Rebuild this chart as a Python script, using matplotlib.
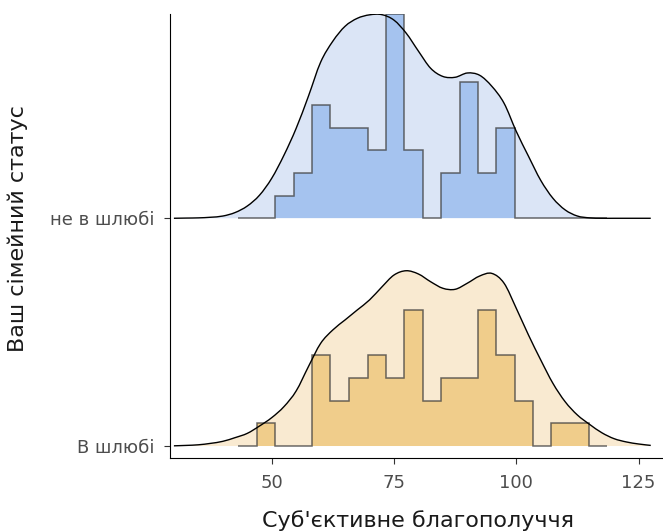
"""
Ridgeline: subjective well-being by marital status (density + binned counts).
"""

import matplotlib.pyplot as plt
import numpy as np
from matplotlib.patches import PathPatch
from matplotlib.path import Path

plt.rcParams.update({
    "font.family": ["DejaVu Sans"],
    "axes.linewidth": 0.8,
})

# groups, bottom to top
groups = ["В шлюбі", "не в шлюбі"]

# histogram bins (shared by both groups) and counts per bin
bin_edges = [43.2, 47.0, 50.7, 54.5, 58.3, 62.0, 65.8, 69.6, 73.3, 77.1, 80.9,
             84.6, 88.4, 92.2, 95.9, 99.7, 103.5, 107.2, 111.0, 114.8, 118.5]
counts_married = [0, 1, 0, 0, 4, 2, 3, 4, 3, 6, 2, 3, 3, 6, 4, 2, 0, 1, 1, 0]
counts_single = [0, 0, 1, 2, 5, 4, 4, 3, 9, 3, 0, 2, 6, 2, 4, 0, 0, 0, 0, 0]

# density curves (relative height)
dens_x = [30, 32.5, 35, 37.5, 40, 42.5, 45, 47.5, 50, 52.5, 55, 57.5, 60, 62.5,
          65, 67.5, 70, 72.5, 75, 77.5, 80, 82.5, 85, 87.5, 90, 92.5, 95, 97.5,
          100, 102.5, 105, 107.5, 110, 112.5, 115, 117.5, 120, 122.5, 125, 127.5]
dens_single = [0.000, 0.001, 0.002, 0.005, 0.011, 0.028, 0.060, 0.113, 0.196,
               0.309, 0.441, 0.598, 0.765, 0.868, 0.941, 0.980, 0.997, 0.998,
               0.971, 0.907, 0.819, 0.735, 0.695, 0.691, 0.712, 0.701, 0.647,
               0.564, 0.426, 0.304, 0.186, 0.098, 0.041, 0.011, 0.002, 0.000,
               0.000, 0.000, 0.000, 0.000]
dens_married = [0.001, 0.003, 0.006, 0.013, 0.023, 0.041, 0.062, 0.098, 0.139,
                0.193, 0.270, 0.389, 0.503, 0.569, 0.618, 0.667, 0.716, 0.779,
                0.838, 0.859, 0.843, 0.805, 0.773, 0.768, 0.798, 0.833, 0.846,
                0.798, 0.675, 0.544, 0.422, 0.307, 0.217, 0.152, 0.106, 0.065,
                0.036, 0.020, 0.010, 0.003]

x_ticks = [50, 75, 100, 125]

SCALE = 0.896  # tallest ridge height, in units of row spacing
FILLS = {
    "В шлюбі": ("#f9ead1", "#f0cd8b"),
    "не в шлюбі": ("#dbe5f6", "#a5c3ef"),
}


def smooth_path(x, y, base=None):
    """Bezier path through the points (Catmull-Rom tangents)."""
    pts = np.column_stack([x, y])
    ext = np.vstack([pts[0], pts, pts[-1]])
    verts, codes = [], []
    if base is not None:
        verts.append((x[0], base))
        codes.append(Path.MOVETO)
        verts.append(pts[0])
        codes.append(Path.LINETO)
    else:
        verts.append(pts[0])
        codes.append(Path.MOVETO)
    for k in range(len(pts) - 1):
        p0, p1, p2, p3 = ext[k], ext[k + 1], ext[k + 2], ext[k + 3]
        verts += [p1 + (p2 - p0) / 6, p2 - (p3 - p1) / 6, p2]
        codes += [Path.CURVE4] * 3
    if base is not None:
        verts += [(x[-1], base), (x[0], base)]
        codes += [Path.LINETO, Path.CLOSEPOLY]
    return Path(verts, codes)


fig = plt.figure(figsize=(6.63, 5.32), dpi=100)
ax = fig.add_axes([0.2564, 0.1385, 0.7421, 0.8352])

hist = [counts_married, counts_single]
dens = [dens_married, dens_single]
cmax = max(max(counts_married), max(counts_single))

for i, g in enumerate(groups):
    light, dark = FILLS[g]
    d = np.array(dens[i]) * SCALE + i
    c = np.array(hist[i]) / cmax * SCALE + i
    ax.add_patch(PathPatch(smooth_path(dens_x, d, base=i), facecolor=light,
                           edgecolor="none", zorder=2))
    ax.stairs(c, bin_edges, baseline=i, fill=True, color=dark, lw=0, zorder=3)
    ax.stairs(c, bin_edges, baseline=i, fill=False, color="#3a3a3a",
              alpha=0.75, lw=1.1, zorder=4)
    ax.add_patch(PathPatch(smooth_path(dens_x, d), facecolor="none",
                           edgecolor="black", lw=1.0, zorder=5))

ax.set_xlim(29.2, 129.8)
ax.set_ylim(-0.054, 1.897)
ax.set_xticks(x_ticks)
ax.set_yticks(range(len(groups)))
ax.set_yticklabels(groups)
ax.tick_params(length=4.3, width=0.8, color="#333333", labelcolor="#4d4d4d",
               labelsize=13)
ax.tick_params(axis="x", pad=7)
ax.tick_params(axis="y", pad=6.5)
for s in ["top", "right"]:
    ax.spines[s].set_visible(False)

ax.set_xlabel("Суб'єктивне благополуччя", fontsize=16, color="#1a1a1a",
              va="center")
ax.set_ylabel("Ваш сімейний статус", fontsize=16, color="#1a1a1a",
              va="center")
ax.xaxis.set_label_coords(0.505, -0.140)
ax.yaxis.set_label_coords(-0.31, 0.516)

fig.savefig("out.png", dpi=100)
